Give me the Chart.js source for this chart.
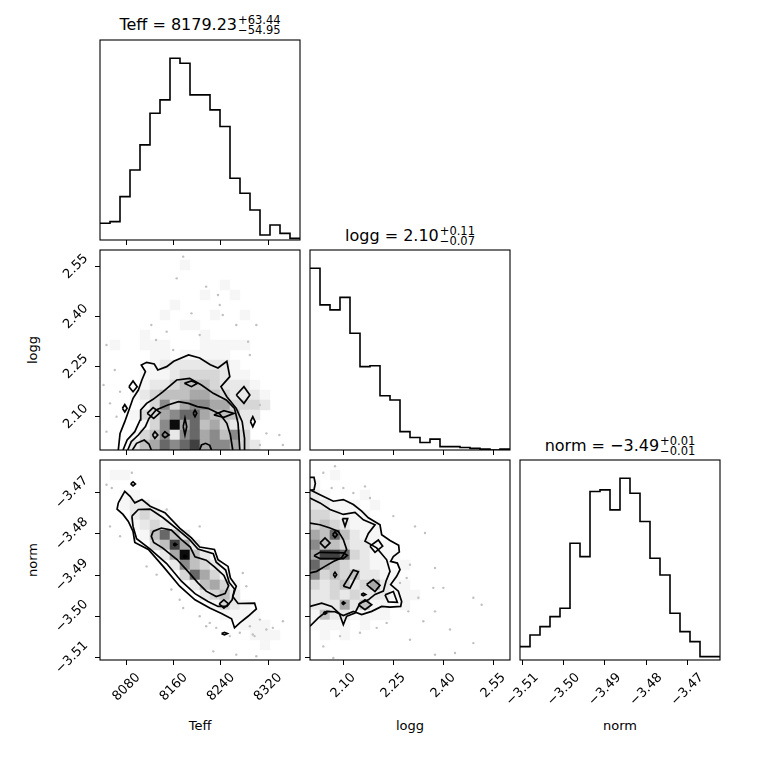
<!DOCTYPE html>
<html>
<head>
<meta charset="utf-8">
<script src="https://cdn.jsdelivr.net/npm/chart.js@4.4.0/dist/chart.umd.min.js"></script>
<style>
  body { margin: 0; background: #fff; }
  #wrap { position: relative; width: 760px; height: 760px; font-family: "DejaVu Sans", sans-serif; color: #000; }
  #wrap canvas { position: absolute; left: 0; top: 0; }
  .ttl { position: absolute; width: 200px; text-align: center; font-size: 16px; line-height: 18px; white-space: nowrap; }
  .ss { display: inline-block; vertical-align: -4px; font-size: 11.5px; line-height: 10px; text-align: left; margin-left: 1px; }
  .ss span { display: block; }
  .lbl { position: absolute; width: 80px; text-align: center; font-size: 13px; line-height: 18px; }
  .rot { transform: rotate(-90deg); }
</style>
</head>
<body>
<div id="wrap">
  <div class="ttl" style="left:100px;top:15px">Teff = 8179.23<span class="ss"><span>+63.44</span><span>−54.95</span></span></div>
  <div class="ttl" style="left:310px;top:226px">logg = 2.10<span class="ss"><span>+0.11</span><span>−0.07</span></span></div>
  <div class="ttl" style="left:520px;top:436px">norm = −3.49<span class="ss"><span>+0.01</span><span>−0.01</span></span></div>
  <div class="lbl" style="left:160px;top:717px">Teff</div>
  <div class="lbl" style="left:370px;top:717px">logg</div>
  <div class="lbl" style="left:580px;top:717px">norm</div>
  <div class="lbl rot" style="left:-7px;top:341px">logg</div>
  <div class="lbl rot" style="left:-7px;top:551px">norm</div>
</div>
<script>
// axis ranges and ticks
const teffRange = [8035, 8374]
const loggRange = [2.0, 2.6]
const normRange = [-3.5106, -3.4621]
const teffTicks = [8080, 8160, 8240, 8320]
const loggTicks = [2.10, 2.25, 2.40, 2.55]
const normTicks = [-3.51, -3.50, -3.49, -3.48, -3.47]

// 1D histograms, 20 bins each
const teffCounts = [10, 11, 26, 42, 57, 76, 84, 109, 106, 87, 87, 78, 68, 37, 28, 18, 3, 9, 4, 1]
const loggCounts = [218, 174, 168, 183, 140, 100, 101, 65, 60, 22, 15, 9, 13, 4, 4, 3, 2, 1, 0, 1]
const normCounts = [8, 15, 20, 26, 31, 70, 62, 101, 102, 90, 109, 100, 83, 61, 51, 28, 17, 11, 2, 2]

// 2D density, top row first, 0 = empty .. 9 = darkest
const gridTeffLogg = [
    "00000000000000000000",
    "00000000100000000000",
    "00000000000000000000",
    "00000000000010000000",
    "00000000001001000000",
    "00000001000000000000",
    "00000010000100100000",
    "00000000110000000000",
    "00001000001000000000",
    "01001110001111100000",
    "00000110111110000000",
    "00000122222221000000",
    "00001112333321100000",
    "00001223444322210000",
    "00012344455432221000",
    "00001363566553332000",
    "00013356775444220000",
    "00001369574532200000",
    "00013462675646300000",
    "00024576785665320000"
]
const gridTeffNorm = [
    "00000000000000000000",
    "01100000000000000000",
    "00000000000000000000",
    "00110000000000000000",
    "00122100000000000000",
    "00023210000000000000",
    "00012321000000000000",
    "00001474200000000000",
    "00000348520000000000",
    "00000025942000000000",
    "00000002643200000000",
    "00000000375310000000",
    "00000000024531000000",
    "00000000002342000000",
    "00000000000132100000",
    "00000000000011110000",
    "00000000000000111000",
    "00000000000000011100",
    "00000000000000001000",
    "00000000000000000000"
]
const gridLoggNorm = [
    "00000000000000000000",
    "00100000000000000000",
    "10000000000000000000",
    "21000100000000000000",
    "22111010000000000000",
    "33211100000000000000",
    "34321110000000000000",
    "54742110000000000000",
    "64432211000000000000",
    "58873211100000000000",
    "75432211010000000000",
    "63434221100000000000",
    "32342352110000000000",
    "22323222111000000000",
    "22252411010000000000",
    "14221111000000000000",
    "11110100000000000000",
    "01010000000000000000",
    "00000000000000000000",
    "00000000000000000000"
]

// loose samples outside the contours
const dotsTeffLogg = [
    [8165, 2.515], [8176, 2.58], [8215, 2.49], [8238, 2.435], [8243, 2.405], [8266, 2.375],
    [8300, 2.375], [8148, 2.355], [8122, 2.375], [8204, 2.345], [8159, 2.30], [8046, 2.315],
    [8060, 2.24], [8041, 2.195], [8069, 2.175], [8063, 2.10], [8046, 2.055], [8306, 2.135],
    [8317, 2.05], [8339, 2.045], [8306, 2.015], [8345, 2.015], [8289, 2.285], [8235, 2.465],
    [8286, 2.325], [8190, 2.41], [8130, 2.33], [8052, 2.14]
]
const dotsTeffNorm = [
    [8046, -3.4681], [8055, -3.4689], [8089, -3.4652], [8052, -3.4782], [8069, -3.4806],
    [8114, -3.4879], [8131, -3.4899], [8156, -3.4935], [8170, -3.4960], [8176, -3.4980],
    [8204, -3.5000], [8221, -3.5016], [8232, -3.5028], [8272, -3.5040], [8289, -3.5024],
    [8306, -3.5008], [8317, -3.5032], [8297, -3.5048], [8255, -3.5048], [8204, -3.4782],
    [8148, -3.4741], [8277, -3.4895], [8283, -3.4927], [8215, -3.5024], [8294, -3.5044],
    [8328, -3.5028], [8345, -3.5012], [8266, -3.5093], [8300, -3.5097], [8227, -3.5085]
]
const dotsLoggNorm = [
    [2.04, -3.4652], [2.075, -3.4636], [2.065, -3.4689], [2.10, -3.4689], [2.13, -3.4701],
    [2.165, -3.4685], [2.18, -3.4713], [2.25, -3.4757], [2.315, -3.4782], [2.345, -3.4798],
    [2.30, -3.4875], [2.29, -3.4907], [2.27, -3.4919], [2.375, -3.4883], [2.37, -3.4931],
    [2.40, -3.4931], [2.325, -3.4955], [2.295, -3.4988], [2.34, -3.5012], [2.375, -3.4988],
    [2.42, -3.5032], [2.49, -3.4955], [2.515, -3.4972], [2.49, -3.5065], [2.435, -3.5089],
    [2.375, -3.5093], [2.30, -3.5057], [2.20, -3.5028], [2.15, -3.5040], [2.09, -3.5048],
    [2.04, -3.5073], [2.07, -3.5101], [2.23, -3.5016]
]

// contour lines, one array per closed or edge-cut line
const contTeffLogg = [
    [[8066, 2.0], [8069, 2.05], [8077, 2.085], [8083, 2.115], [8091, 2.155], [8100, 2.18], [8106, 2.21],
     [8112, 2.235], [8105, 2.255], [8114, 2.263], [8127, 2.258], [8133, 2.24], [8148, 2.25], [8160, 2.266],
     [8185, 2.285], [8204, 2.276], [8222, 2.256], [8235, 2.246], [8250, 2.266], [8255, 2.22], [8240, 2.19],
     [8250, 2.16], [8266, 2.125], [8276, 2.085], [8280, 2.035], [8280, 2.0]],
    [[8074, 2.0], [8081, 2.03], [8094, 2.055], [8103, 2.09], [8104, 2.12], [8114, 2.14], [8125, 2.152],
     [8142, 2.175], [8165, 2.21], [8187, 2.215], [8207, 2.195], [8227, 2.17], [8249, 2.15], [8263, 2.125],
     [8269, 2.08], [8272, 2.0]],
    [[8082, 2.0], [8088, 2.025], [8100, 2.045], [8112, 2.07], [8118, 2.095], [8130, 2.12], [8150, 2.135],
     [8168, 2.145], [8185, 2.14], [8200, 2.13], [8218, 2.125], [8238, 2.108], [8250, 2.08], [8256, 2.045], [8260, 2.0]],
    [[8090, 2.0], [8097, 2.02], [8110, 2.03], [8118, 2.018], [8122, 2.0]],
    [[8204, 2.0], [8207, 2.015], [8214, 2.02], [8221, 2.014], [8224, 2.0]],
    [[8084, 2.19], [8091, 2.207], [8098, 2.19], [8091, 2.175], [8084, 2.19]],
    [[8073, 2.125], [8077, 2.136], [8081, 2.125], [8077, 2.114], [8073, 2.125]],
    [[8266, 2.165], [8279, 2.19], [8289, 2.165], [8279, 2.14], [8266, 2.165]],
    [[8290, 2.085], [8294, 2.1], [8298, 2.085], [8294, 2.07], [8290, 2.085]],
    [[8178, 2.2], [8190, 2.207], [8200, 2.2], [8190, 2.19], [8178, 2.2]],
    [[8193, 2.11], [8196, 2.12], [8199, 2.11], [8196, 2.1], [8193, 2.11]],
    [[8176, 2.07], [8179, 2.095], [8182, 2.07], [8179, 2.045], [8176, 2.07]],
    [[8228, 2.105], [8245, 2.118], [8262, 2.11], [8245, 2.098], [8228, 2.105]],
    [[8115, 2.11], [8125, 2.127], [8137, 2.112], [8126, 2.095], [8115, 2.11]],
    [[8140, 2.045], [8145, 2.055], [8152, 2.045], [8145, 2.037], [8140, 2.045]],
    [[8124, 2.045], [8128, 2.055], [8133, 2.045], [8128, 2.035], [8124, 2.045]]
]
const contTeffNorm = [
    [[8066, -3.4725], [8077, -3.4697], [8086, -3.4709], [8094, -3.4725], [8106, -3.4717], [8120, -3.4733],
     [8145, -3.4749], [8170, -3.4786], [8190, -3.4810], [8204, -3.4832], [8229, -3.4838], [8235, -3.4863],
     [8252, -3.4879], [8256, -3.4907], [8266, -3.4927], [8260, -3.4952], [8269, -3.4969], [8297, -3.4968],
     [8300, -3.4982], [8286, -3.5000], [8272, -3.5016], [8263, -3.5028], [8258, -3.5006], [8241, -3.4993],
     [8221, -3.4980], [8196, -3.4960], [8170, -3.4927], [8142, -3.4879], [8117, -3.4838], [8094, -3.4821],
     [8091, -3.4794], [8083, -3.4770], [8074, -3.4753], [8064, -3.4740], [8066, -3.4725]],
    [[8089, -3.4757], [8100, -3.4741], [8120, -3.4740], [8142, -3.4761], [8167, -3.4790], [8187, -3.4814],
     [8201, -3.4837], [8227, -3.4848], [8232, -3.4869], [8248, -3.4888], [8254, -3.4918], [8263, -3.4934],
     [8259, -3.4960], [8250, -3.4976], [8235, -3.4976], [8218, -3.4964], [8196, -3.4945], [8173, -3.4915],
     [8148, -3.4872], [8120, -3.4837], [8097, -3.4812], [8091, -3.4782], [8089, -3.4757]],
    [[8125, -3.4794], [8139, -3.4786], [8156, -3.4791], [8173, -3.4814], [8188, -3.4832], [8196, -3.4856],
     [8215, -3.4864], [8229, -3.4880], [8245, -3.4901], [8253, -3.4926], [8247, -3.4945], [8232, -3.4952],
     [8215, -3.4939], [8201, -3.4919], [8184, -3.4891], [8166, -3.4863], [8141, -3.4834], [8126, -3.4821],
     [8122, -3.4806], [8125, -3.4794]],
    [[8087, -3.4679], [8091, -3.4674], [8095, -3.4679], [8091, -3.4684], [8087, -3.4679]],
    [[8241, -3.5042], [8246, -3.5039], [8251, -3.5042], [8246, -3.5045], [8241, -3.5042]],
    [[8237, -3.4970], [8245, -3.4960], [8253, -3.4970], [8245, -3.4980], [8237, -3.4970]],
    [[8159, -3.4826], [8162, -3.4823], [8165, -3.4826], [8162, -3.4829], [8159, -3.4826]],
    [[8176, -3.4855], [8179, -3.4852], [8182, -3.4855], [8179, -3.4858], [8176, -3.4855]]
]
const contLoggNorm = [
    [[2.0, -3.4693], [2.03, -3.4705], [2.07, -3.4721], [2.10, -3.4717], [2.13, -3.4729], [2.155, -3.4745],
     [2.175, -3.4761], [2.21, -3.4778], [2.215, -3.4802], [2.24, -3.4816], [2.266, -3.4828], [2.268, -3.4844],
     [2.25, -3.4855], [2.242, -3.4867], [2.262, -3.4871], [2.27, -3.4887], [2.26, -3.4903], [2.242, -3.4923],
     [2.265, -3.4939], [2.275, -3.4964], [2.272, -3.4976], [2.24, -3.4978], [2.215, -3.4976], [2.185, -3.4988],
     [2.155, -3.4996], [2.13, -3.4988], [2.10, -3.4998], [2.075, -3.4989], [2.05, -3.4988], [2.025, -3.5004],
     [2.0, -3.5024]],
    [[2.0, -3.4713], [2.03, -3.4725], [2.06, -3.4741], [2.10, -3.4753], [2.135, -3.4748], [2.16, -3.4766],
     [2.195, -3.4778], [2.175, -3.4799], [2.165, -3.4818], [2.20, -3.4834], [2.23, -3.4863], [2.24, -3.4891],
     [2.228, -3.4915], [2.22, -3.4939], [2.195, -3.4947], [2.175, -3.4960], [2.15, -3.4968], [2.135, -3.4992],
     [2.11, -3.5000], [2.10, -3.5020], [2.088, -3.4993], [2.065, -3.4976], [2.035, -3.4968], [2.0, -3.4976]],
    [[2.0, -3.4774], [2.03, -3.4778], [2.06, -3.4786], [2.085, -3.4794], [2.10, -3.4814], [2.11, -3.4838],
     [2.095, -3.4858], [2.07, -3.4867], [2.045, -3.4879], [2.02, -3.4891], [2.0, -3.4895]],
    [[2.0, -3.4695], [2.012, -3.4693], [2.016, -3.4678], [2.012, -3.4663], [2.0, -3.4663]],
    [[2.03, -3.4822], [2.045, -3.4810], [2.06, -3.4822], [2.045, -3.4834], [2.03, -3.4822]],
    [[2.068, -3.4802], [2.075, -3.4795], [2.082, -3.4802], [2.075, -3.4809], [2.068, -3.4802]],
    [[2.097, -3.4763], [2.113, -3.4763], [2.105, -3.4782], [2.097, -3.4763]],
    [[2.18, -3.4830], [2.205, -3.4815], [2.218, -3.4830], [2.195, -3.4845], [2.18, -3.4830]],
    [[2.07, -3.4899], [2.075, -3.4893], [2.08, -3.4899], [2.075, -3.4905], [2.07, -3.4899]],
    [[2.10, -3.4927], [2.13, -3.4888], [2.145, -3.4892], [2.12, -3.4932], [2.10, -3.4927]],
    [[2.17, -3.4923], [2.19, -3.4911], [2.21, -3.4925], [2.195, -3.4940], [2.17, -3.4923]],
    [[2.145, -3.4972], [2.165, -3.4960], [2.185, -3.4972], [2.165, -3.4984], [2.145, -3.4972]],
    [[2.153, -3.4947], [2.16, -3.4944], [2.167, -3.4947], [2.16, -3.4950], [2.153, -3.4947]],
    [[2.095, -3.4968], [2.10, -3.4965], [2.105, -3.4968], [2.10, -3.4971], [2.095, -3.4968]],
    [[2.04, -3.4992], [2.045, -3.4989], [2.05, -3.4992], [2.045, -3.4995], [2.04, -3.4992]],
    [[2.225, -3.4948], [2.25, -3.4940], [2.262, -3.4966], [2.235, -3.4965], [2.225, -3.4948]],
    [[2.012, -3.4853], [2.03, -3.4845], [2.10, -3.4846], [2.112, -3.4852], [2.10, -3.4860], [2.03, -3.4860], [2.012, -3.4853]]
]

const W = 760
const SIDE = 200
const FONT = { family: "DejaVu Sans", size: 13 }
const shades = [255, 246, 232, 214, 192, 168, 138, 104, 64, 12]
const wrap = document.getElementById("wrap")

const framePlugin = {
    id: "frame",
    afterDatasetsDraw(chart) {
        const { ctx, chartArea: a } = chart
        ctx.save()
        ctx.strokeStyle = "#000"
        ctx.lineWidth = 1.1
        ctx.strokeRect(a.left, a.top, a.right - a.left, a.bottom - a.top)
        ctx.restore()
    }
}

function fmt(v, dec) {
    return v.toFixed(dec).replace("-", "\u2212")
}

// rotated labels are anchored at their end; shift them so they sit centred on the tick
function labelShift(ticks, dec) {
    const c = document.createElement("canvas").getContext("2d")
    c.font = FONT.size + "px " + FONT.family
    const w = Math.max(...ticks.map(v => c.measureText(fmt(v, dec)).width))
    return w * Math.SQRT1_2 / 2
}

function xAxis(range, ticks, dec, labels, bottom) {
    return {
        type: "linear", position: "bottom", min: range[0], max: range[1],
        afterBuildTicks: s => { s.ticks = ticks.map(v => ({ value: v })) },
        afterFit: s => { s.height = W - bottom; s.paddingLeft = 0; s.paddingRight = 0 },
        grid: { drawOnChartArea: false, drawTicks: true, tickLength: 5, tickColor: "#000", tickWidth: 1 },
        border: { display: false },
        ticks: {
            display: labels, minRotation: 45, maxRotation: 45, padding: 5, color: "#000", font: FONT,
            labelOffset: labelShift(ticks, dec),
            callback: v => fmt(v, dec)
        }
    }
}

function yAxis(range, ticks, dec, show, labels, left) {
    if (!show) return { type: "linear", min: range[0], max: range[1], display: false }
    return {
        type: "linear", position: "left", min: range[0], max: range[1],
        afterBuildTicks: s => { s.ticks = ticks.map(v => ({ value: v })) },
        afterFit: s => { s.width = left; s.paddingTop = 0; s.paddingBottom = 0 },
        grid: { drawOnChartArea: false, drawTicks: true, tickLength: 5, tickColor: "#000", tickWidth: 1 },
        border: { display: false },
        ticks: {
            display: labels, minRotation: 45, maxRotation: 45, padding: 9, color: "#000", font: FONT,
            labelOffset: -labelShift(ticks, dec),
            callback: v => fmt(v, dec)
        }
    }
}

function histSet(range, counts) {
    const w = (range[1] - range[0]) / counts.length
    const pts = counts.map((c, i) => ({ x: range[0] + i * w, y: c }))
    pts.push({ x: range[1], y: counts[counts.length - 1] })
    return { data: pts, showLine: true, stepped: "before", pointRadius: 0, borderColor: "#000", borderWidth: 1.6, fill: false }
}

function cellSet(grid, xr, yr) {
    const dx = (xr[1] - xr[0]) / grid[0].length
    const dy = (yr[1] - yr[0]) / grid.length
    const pts = []
    grid.forEach((row, r) => {
        [...row].forEach((ch, c) => {
            const v = +ch
            if (v > 0) pts.push({ x: xr[0] + (c + 0.5) * dx, y: yr[1] - (r + 0.5) * dy, v: v })
        })
    })
    return {
        data: pts, order: 2, pointStyle: "rect", pointBorderWidth: 0,
        pointRadius: ctx => {
            const s = ctx.chart.scales.x
            return Math.abs(s.getPixelForValue(xr[0] + dx) - s.getPixelForValue(xr[0])) / 2 / Math.SQRT1_2 + 0.4
        },
        pointBackgroundColor: ctx => {
            const g = shades[ctx.raw ? ctx.raw.v : 0]
            return `rgb(${g},${g},${g})`
        }
    }
}

function dotSet(dots) {
    return { data: dots.map(d => ({ x: d[0], y: d[1] })), order: 1, pointRadius: 1.2, pointBorderWidth: 0, pointBackgroundColor: "#c0c0c0" }
}

function contourSets(lines) {
    return lines.map(l => ({
        data: l.map(p => ({ x: p[0], y: p[1] })), order: 0, showLine: true, pointRadius: 0,
        borderColor: "#000", borderWidth: 1.7, fill: false, tension: 0
    }))
}

function makeChart(left, top, x, y, yShown, datasets) {
    const cv = document.createElement("canvas")
    cv.width = W
    cv.height = W
    wrap.appendChild(cv)
    return new Chart(cv, {
        type: "scatter",
        data: { datasets: datasets },
        options: {
            responsive: false, animation: false, events: [],
            layout: { padding: { top: top, right: W - left - SIDE, left: yShown ? 0 : left, bottom: 0 } },
            plugins: { legend: { display: false }, tooltip: { enabled: false } },
            scales: { x: x, y: y }
        },
        plugins: [framePlugin]
    })
}

const maxOf = a => Math.max(...a) * 1.1

// row 1: Teff histogram
makeChart(100, 40,
    xAxis(teffRange, teffTicks, 0, false, 240),
    yAxis([0, maxOf(teffCounts)], [], 0, false),
    false, [histSet(teffRange, teffCounts)])

// row 2: Teff vs logg, logg histogram
makeChart(100, 250,
    xAxis(teffRange, teffTicks, 0, false, 450),
    yAxis(loggRange, loggTicks, 2, true, true, 100),
    true, [...contourSets(contTeffLogg), dotSet(dotsTeffLogg), cellSet(gridTeffLogg, teffRange, loggRange)])
makeChart(310, 250,
    xAxis(loggRange, loggTicks, 2, false, 450),
    yAxis([0, maxOf(loggCounts)], [], 0, false),
    false, [histSet(loggRange, loggCounts)])

// row 3: Teff vs norm, logg vs norm, norm histogram
makeChart(100, 460,
    xAxis(teffRange, teffTicks, 0, true, 660),
    yAxis(normRange, normTicks, 2, true, true, 100),
    true, [...contourSets(contTeffNorm), dotSet(dotsTeffNorm), cellSet(gridTeffNorm, teffRange, normRange)])
makeChart(310, 460,
    xAxis(loggRange, loggTicks, 2, true, 660),
    yAxis(normRange, normTicks, 2, true, false, 310),
    true, [...contourSets(contLoggNorm), dotSet(dotsLoggNorm), cellSet(gridLoggNorm, loggRange, normRange)])
makeChart(520, 460,
    xAxis(normRange, normTicks, 2, true, 660),
    yAxis([0, maxOf(normCounts)], [], 0, false),
    false, [histSet(normRange, normCounts)])
</script>
</body>
</html>
